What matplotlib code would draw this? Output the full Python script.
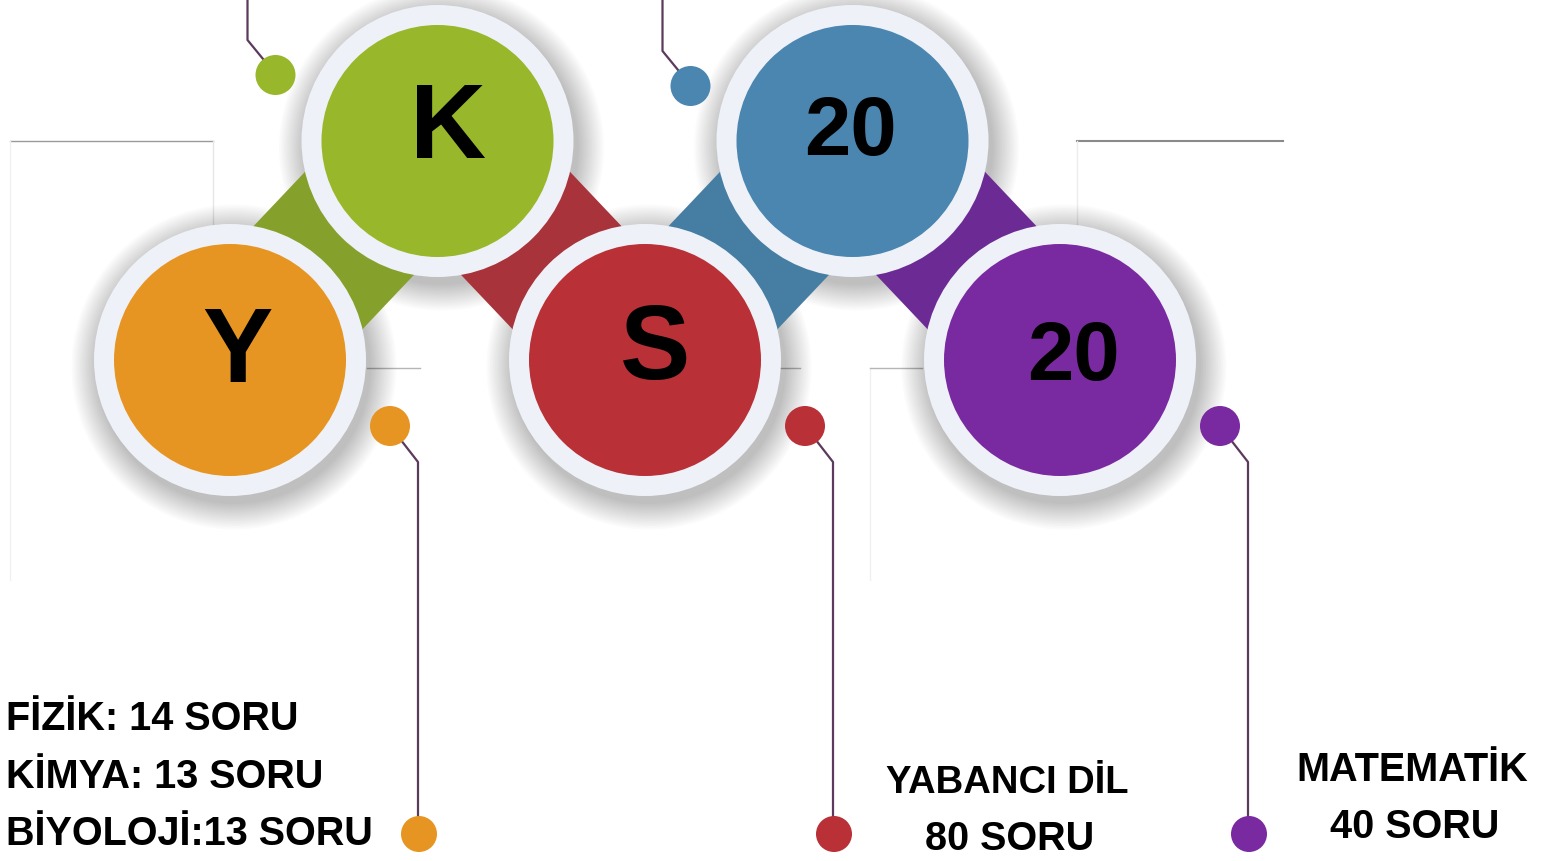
import matplotlib

matplotlib.use("Agg")

import matplotlib.pyplot as plt
from matplotlib.patches import Circle, Polygon
import numpy as np

# circle badges, left to right
BADGE_TEXT = ["Y", "K", "S", "20", "20"]
BADGE_COLORS = ["#e69522", "#98b72a", "#b93037", "#4a86b0", "#7a2aa0"]
BAND_COLORS = ["#86a02c", "#a8333b", "#467ea3", "#6c2b94"]

# question counts
SCIENCE_SUBJECTS = ["FİZİK", "KİMYA", "BİYOLOJİ"]
SCIENCE_COUNTS = [14, 13, 13]
SCIENCE_SEPS = [": ", ": ", ":"]
LANG_LABEL = "YABANCI DİL"
LANG_COUNT = 80
MATH_LABEL = "MATEMATİK"
MATH_COUNT = 40

RING = "#eef1f7"
WIRE = "#5b3a5c"
FONT = "Liberation Sans"
# glyph nudges inside each badge (px)
GLYPH_DX = [7, 11, 10, -2, 13]
GLYPH_DY = [-5, -11, -8, -8, -2]


def main() -> None:
    fig = plt.figure(figsize=(15.5, 8.61), dpi=100)
    ax = fig.add_axes([0, 0, 1, 1])
    ax.set_xlim(0, 1550)
    ax.set_ylim(861, 0)
    ax.axis("off")

    xs = 230 + 207.5 * np.arange(len(BADGE_TEXT))
    ys = np.where(np.arange(len(BADGE_TEXT)) % 2 == 0, 360, 141)

    # faint guide lines behind everything
    ax.plot([10, 213], [141, 141], color="#9a9a9a", lw=1, zorder=0)
    ax.plot([1077, 1283], [141, 141], color="#8a8a8a", lw=1.5, zorder=0)
    ax.plot([10, 10], [141, 580], color="#f0f0f0", lw=1, zorder=0)
    ax.plot([213, 213], [141, 225], color="#e6e6e6", lw=1, zorder=0)
    ax.plot([1077, 1077], [141, 225], color="#ececec", lw=1, zorder=0)
    ax.plot([870, 870], [368, 580], color="#f0f0f0", lw=1, zorder=0)
    for x0, x1 in [(367, 420), (780, 800), (870, 922)]:
        ax.plot([x0, x1], [368, 368], color="#b5b5b5", lw=1, zorder=0)

    # soft shadows, kept under the bands
    for cx, cy in zip(xs, ys):
        for k in range(16):
            ax.add_patch(Circle((cx + 4, cy + 7), 137 + k * 1.7, facecolor="#000000",
                                alpha=0.014, edgecolor="none", zorder=0.5))

    # bands linking consecutive badges
    half = 75
    for i, color in enumerate(BAND_COLORS):
        p0 = np.array([xs[i], ys[i]])
        p1 = np.array([xs[i + 1], ys[i + 1]])
        d = (p1 - p0) / np.linalg.norm(p1 - p0)
        n = np.array([-d[1], d[0]]) * half
        ax.add_patch(Polygon([p0 + n, p1 + n, p1 - n, p0 - n], closed=True,
                             facecolor=color, edgecolor="none", zorder=1))

    # badges
    for i, (label, color) in enumerate(zip(BADGE_TEXT, BADGE_COLORS)):
        cx, cy = xs[i], ys[i]
        z = 2 + i * 0.1
        ax.add_patch(Circle((cx, cy), 136, facecolor=RING, edgecolor="none", zorder=z + 0.01))
        ax.add_patch(Circle((cx, cy), 116, facecolor=color, edgecolor="none", zorder=z + 0.02))
        size = 76 if label.isalpha() else 60
        ax.text(cx + GLYPH_DX[i], cy + GLYPH_DY[i], label, fontsize=size, fontweight="bold",
                family=FONT, ha="center", va="center", color="black", zorder=z + 0.03)

    # connectors: top ones for K and first 20
    for i in (1, 3):
        cx, cy = xs[i], ys[i]
        dx, dy = cx - 162, cy - (66 if i == 1 else 55)
        ax.plot([dx - 1, dx - 28, dx - 28], [dy - 2, dy - 35, -5], color=WIRE, lw=1.6, zorder=1.5)
        ax.add_patch(Circle((dx, dy), 20, facecolor=BADGE_COLORS[i], edgecolor="none", zorder=1.6))

    # connectors: bottom ones for Y, S and last 20
    for i in (0, 2, 4):
        cx, cy = xs[i], ys[i]
        dx, dy = cx + 160, cy + 66
        ax.plot([dx, dx + 28, dx + 28], [dy, dy + 36, 822], color=WIRE, lw=1.6, zorder=1.5)
        ax.add_patch(Circle((dx, dy), 20, facecolor=BADGE_COLORS[i], edgecolor="none", zorder=1.6))
        ax.add_patch(Circle((dx + 29, 834), 18, facecolor=BADGE_COLORS[i], edgecolor="none", zorder=1.6))

    # question counts
    for k, (subj, sep, cnt) in enumerate(zip(SCIENCE_SUBJECTS, SCIENCE_SEPS, SCIENCE_COUNTS)):
        ax.text(6, 719 + k * 57.5, f"{subj}{sep}{cnt} SORU", fontsize=28.5, fontweight="bold",
                family=FONT, ha="left", va="center", color="black")
    ax.text(1007, 783, LANG_LABEL, fontsize=27.5, fontweight="bold", family=FONT,
            ha="center", va="center", color="black")
    ax.text(1010, 839, f"{LANG_COUNT} SORU", fontsize=28.5, fontweight="bold", family=FONT,
            ha="center", va="center", color="black")
    ax.text(1412, 770, MATH_LABEL, fontsize=28.5, fontweight="bold", family=FONT,
            ha="center", va="center", color="black")
    ax.text(1415, 827, f"{MATH_COUNT} SORU", fontsize=28.5, fontweight="bold", family=FONT,
            ha="center", va="center", color="black")

    fig.savefig("out.png", dpi=100, facecolor="white")
    plt.close(fig)


if __name__ == "__main__":
    main()
